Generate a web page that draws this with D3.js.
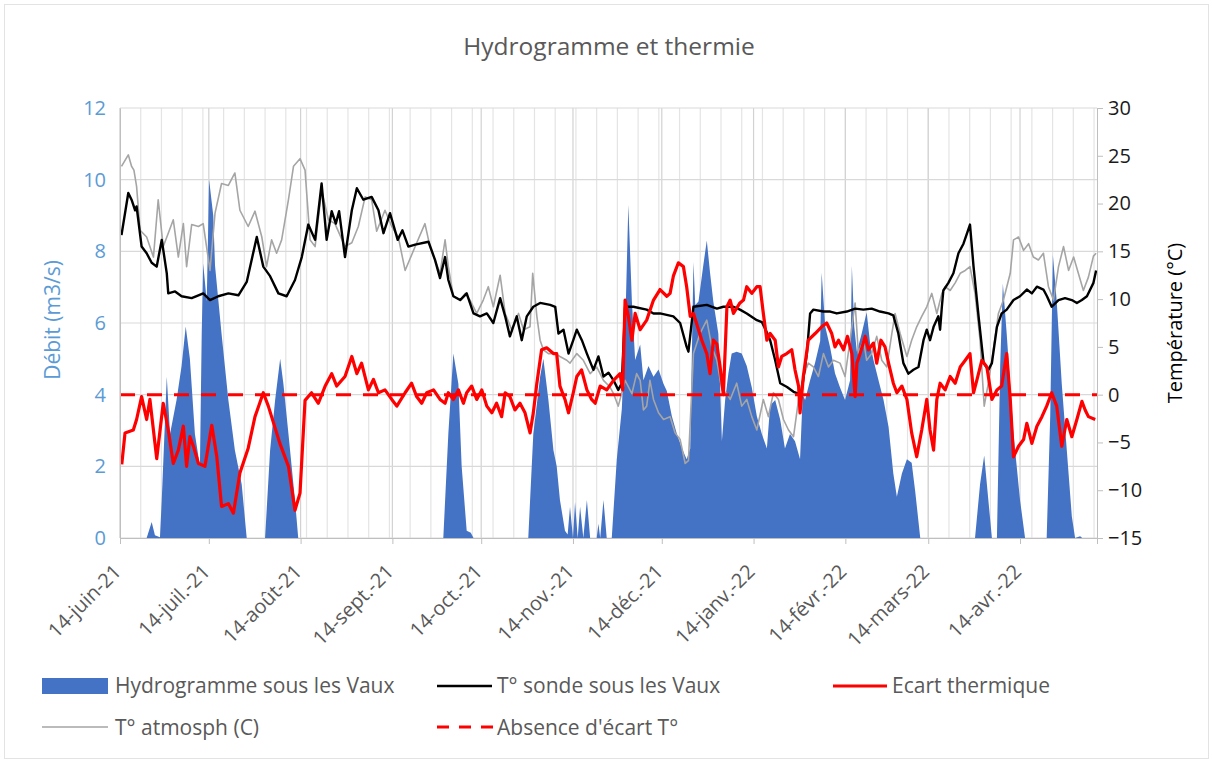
<!DOCTYPE html>
<html>
<head>
<meta charset="utf-8">
<script src="https://cdn.jsdelivr.net/npm/d3@7"></script>
<style>
body { margin: 0; background: #fff; }
text { font-family: "Open Sans", sans-serif; }
</style>
</head>
<body>
<script>
// jours depuis le 14 juin 2021
var startDate = new Date(2021, 5, 14)
var nbJours = 330

// Hydrogramme sous les Vaux (m3/s) : [jour, débit]
var hydrogramme = [[0,0],[9,0],[10.7,0.45],[11.8,0.08],[13.5,0.02],[14.1,1.06],[15.8,4.5],[16.9,2.9],[19.1,3.85],[20.8,4.8],[22.2,5.9],[23.6,5.0],[25.3,2.9],[27.0,2.0],[27.6,5.7],[28.1,7.66],[29.3,6.6],[30.1,10.0],[31.5,9.0],[32.1,7.6],[34.3,5.7],[36.6,3.85],[38.8,2.45],[41.1,1.5],[42.8,0],[49,0],[50.7,2.45],[52.4,3.85],[54.1,5.0],[55.2,4.3],[56.9,2.9],[59.1,1.06],[60.2,0],[109.2,0],[110.9,2.9],[112.6,5.15],[114.3,4.3],[115.4,2.0],[117.1,0.2],[118.5,0.15],[119.4,0],[137.9,0],[139.6,2.9],[141.9,4.5],[143,5.0],[144.7,3.85],[146.4,2.45],[147.5,2.0],[148.6,1.06],[150.3,0.2],[151.2,0.1],[152,0.87],[153,0],[153.7,1.0],[154.6,0],[155.4,0.87],[156.5,0],[157.7,1.06],[158.8,0],[161,0],[161.6,0.4],[162.2,0],[163.3,1.06],[164.4,0],[166.1,0],[167.8,2.2],[169.5,3.6],[170.6,5.7],[171.7,9.3],[172.9,6.6],[174,4.97],[175.7,5.4],[176.8,4.4],[178.5,4.8],[180.2,4.5],[181.9,4.7],[183.6,4.3],[184.7,4.1],[186.4,3.4],[188.1,2.9],[189.8,2.5],[191.4,2.2],[192.6,2.5],[193.7,7.7],[194.3,6.5],[195.4,6.6],[197,7.6],[198.2,8.3],[199.3,7.4],[200.4,6.6],[202.1,5.7],[203.3,2.7],[204.4,3.85],[205.5,4.6],[206.6,5.15],[208.3,5.2],[210,5.15],[211.7,4.8],[213.4,4.2],[215.1,3.4],[216.8,2.9],[218.5,2.5],[219.6,3.7],[221.3,3.85],[223,3.3],[224.6,2.5],[226.3,2.9],[228,2.7],[229.7,2.2],[230.6,4.0],[231.4,3.85],[233.1,4.4],[234.8,4.9],[236.5,5.5],[237,7.4],[238.2,5.9],[239.9,5.3],[241.5,4.6],[243.2,4.2],[244.9,3.85],[246.6,4.4],[247.2,7.6],[248,5.9],[248.9,5.2],[250.5,5.7],[252.2,6.3],[253.4,5.4],[254.5,4.97],[256.2,4.4],[257.9,3.85],[259.6,3.1],[261.2,1.8],[262.4,1.15],[264.1,1.8],[265.8,2.2],[267.4,2.1],[268.6,1.3],[270.3,0],[288.8,0],[290.5,1.5],[291.9,2.3],[293.3,1.06],[294.5,0],[296.2,0],[297.3,4.8],[298.2,7.1],[299.5,5.7],[301.8,2.9],[304,1.06],[305.7,0],[313,0],[314.2,3.4],[315.1,7.9],[316.4,6.6],[318.1,4.3],[319.8,2.45],[321.5,0.6],[322.6,0],[324.3,0.05],[325,0],[330,0]]

// T° sonde sous les Vaux (°C)
var tSonde = [[0.5,16.7],[2.8,21.1],[3.9,20.4],[5.1,19.3],[5.6,19.7],[7.3,15.5],[9,14.8],[10.7,13.8],[12.4,13.4],[14.1,16.2],[15.8,12.7],[16.3,10.6],[18.6,10.8],[20.8,10.3],[24.2,10.1],[26.5,10.4],[28.1,10.6],[30.4,9.9],[33.2,10.3],[36.6,10.6],[40,10.4],[42.8,11.8],[46.2,16.5],[48.4,13.4],[50.7,12.4],[53.5,10.6],[56.3,10.3],[59.1,12.0],[61.4,14.4],[63.6,17.8],[65.9,16.2],[68.1,22.1],[69.8,16.2],[71.5,19.2],[72.9,17.9],[74,19.2],[76,14.4],[78.3,19.3],[80,21.6],[82.2,20.4],[85,20.7],[87.3,19.3],[89,16.9],[91.2,19.0],[93.8,16.2],[95.4,17.2],[97.4,15.5],[99.7,15.7],[104.2,16.0],[106.4,14.1],[108.1,12.2],[109.8,14.4],[110.9,12.0],[112.6,10.3],[114.9,9.9],[117.1,10.6],[119.4,8.5],[121.6,8.2],[123.9,8.5],[126.1,7.5],[128.4,10.1],[130.1,8.2],[131.7,6.1],[134,8.2],[135.7,5.7],[137.4,8.2],[139.6,9.2],[141.9,9.6],[145.3,9.4],[147,9.2],[148.1,6.4],[149.8,6.8],[151.5,4.3],[153.1,5.7],[154.3,6.8],[156,5.7],[157.7,4.3],[159.9,2.6],[161.6,4.0],[163.3,1.9],[165,2.3],[166.7,1.5],[168.3,0.5],[169.5,1.2],[170.6,9.2],[173.4,9.2],[177.9,8.9],[180.2,8.5],[182.4,8.5],[186.9,8.2],[189.2,7.5],[191.4,5.0],[192,4.5],[193.7,9.2],[198.2,9.4],[201.6,9.0],[203.8,9.2],[207.2,9.2],[209.4,8.9],[211.7,8.5],[215.1,7.8],[216.8,7.6],[218.5,6.5],[219.6,5.7],[221.3,3.6],[223,1.2],[225.3,0.8],[227.5,0.3],[229.2,0.1],[230.3,0.5],[232,4.3],[233.1,8.5],[234.2,8.9],[237.6,8.7],[239.9,8.7],[242.1,8.5],[245.5,8.7],[248.3,9.0],[251.1,8.9],[253.9,9.0],[256.7,8.7],[259.6,8.5],[261.2,8.3],[262.9,6.4],[264.6,3.3],[266.3,2.2],[268,2.6],[269.7,2.9],[271.4,5.7],[272.5,6.8],[273.6,5.7],[274.8,7.1],[276.4,8.2],[277,6.8],[277.6,9.2],[278.1,10.9],[279.8,11.7],[281.5,12.7],[283.2,14.8],[284.9,15.8],[287.1,17.8],[288.3,13.4],[290,8.2],[291.7,3.3],[293.3,2.6],[294.5,3.3],[296.2,7.1],[297.8,8.5],[299.5,8.9],[301.8,9.9],[304,10.3],[306.3,11.0],[308,10.6],[309.7,11.3],[311.9,11.0],[313.1,10.3],[314.7,9.2],[317,9.9],[319.2,10.1],[321.5,9.9],[323.2,9.6],[324.9,9.9],[326.6,10.3],[328.8,11.7],[329.7,13.0]]

// T° atmosph (C)
var tAtmos = [[0.5,23.9],[2.8,25.1],[3.9,23.9],[4.7,23.5],[5.6,21.8],[6.8,17.2],[9,16.5],[11.3,14.4],[12.9,20.4],[14.6,15.5],[16.3,16.9],[18,18.3],[19.7,14.4],[21.4,17.9],[22.5,13.4],[24.2,17.8],[26.5,17.6],[28.1,17.9],[30.4,13.0],[32.1,19.0],[34.3,22.1],[36.6,21.9],[38.8,23.2],[40.5,19.3],[43.3,17.6],[45.6,19.2],[47.9,16.5],[49.5,13.4],[51.2,16.2],[52.9,14.8],[54.6,16.2],[56.9,20.4],[58.6,23.9],[60.8,24.7],[62.5,23.5],[64.2,16.2],[65.9,15.5],[68.1,21.4],[70.4,18.3],[72.6,17.9],[76,15.5],[78.3,15.9],[80.5,17.6],[82.8,20.7],[85,20.4],[86.7,17.1],[89.5,19.3],[91.8,17.6],[94,16.5],[96.3,13.0],[99.7,15.5],[103,17.9],[104.7,15.5],[106.4,14.1],[108.1,12.7],[109.8,16.2],[110.9,13.4],[112.6,10.3],[114.9,9.9],[116.6,10.6],[118.2,9.9],[120.5,8.5],[122.7,9.9],[124.4,11.3],[126.1,9.2],[128.4,12.5],[130.1,8.5],[132.3,6.8],[134.6,8.5],[136.3,6.8],[138.5,7.1],[139.4,12.7],[140.8,8.2],[141.9,5.7],[143,4.7],[144.7,4.3],[147,4.3],[148.6,4.0],[150.9,3.6],[152,3.3],[154.3,4.3],[156.5,3.6],[158.8,2.2],[161,2.9],[163.3,1.5],[165.5,0.8],[166.7,0.1],[168.3,-1.2],[170.6,1.5],[172.9,0.1],[174.5,2.2],[175.7,1.5],[176.8,-1.6],[177.9,-1.2],[179,1.5],[180.2,-0.5],[181.9,-1.9],[183.6,-2.6],[185.8,-2.3],[187.5,-4.0],[189.2,-4.7],[190.9,-7.2],[192,-6.9],[193.7,4.3],[195.9,6.4],[198.2,7.8],[199.9,5.0],[201.6,3.6],[203.3,0.5],[205,0.1],[206.1,-0.5],[208.3,1.2],[210,-1.2],[211.7,-0.5],[213.4,-2.3],[215.1,-3.7],[217.3,-0.5],[219,-2.3],[220.7,0.2],[222.4,-0.5],[224.1,-2.6],[225.8,-3.7],[227.5,-4.4],[229.2,-0.5],[230.8,1.9],[232.5,3.3],[234.2,2.9],[235.9,1.9],[237.6,4.3],[239.3,2.9],[241,3.6],[243.2,3.3],[244.9,1.9],[246.6,5.7],[248.3,9.6],[249.4,4.3],[251.1,5.7],[252.2,3.6],[253.9,4.3],[255.6,6.1],[257.3,3.6],[259,2.9],[260.7,6.4],[261.8,8.5],[263.5,6.4],[265.8,4.0],[267.4,5.7],[269.1,7.1],[270.8,8.2],[272.5,9.2],[274.2,10.6],[275.9,8.5],[277.6,10.6],[278.7,11.3],[280.4,10.9],[282.1,11.7],[283.8,12.7],[285.5,13.0],[287.1,13.4],[288.8,10.6],[290.5,5.7],[291.9,-1.2],[293.3,1.2],[295,4.7],[296.7,8.5],[298.4,9.9],[300.7,12.7],[301.8,16.2],[303.5,16.5],[305.2,15.1],[306.9,15.8],[308.5,14.4],[310.2,14.1],[311.9,14.8],[313.6,11.3],[315.3,9.9],[317,13.4],[318.7,15.5],[320.4,13.0],[322.1,14.4],[323.7,12.7],[325.4,10.9],[327.1,12.3],[328.8,14.5],[329.7,14.8]]

// Ecart thermique (°C)
var ecart = [[0.6,-7.3],[1.7,-4.0],[4.5,-3.7],[5.6,-2.6],[7.3,-0.2],[9,-2.6],[10.1,-0.5],[12.4,-6.7],[14.6,-0.9],[16.3,-3.7],[18,-7.2],[19.7,-5.8],[21.4,-3.3],[22.5,-7.5],[23.6,-4.4],[24.8,-5.4],[26.5,-7.2],[28.7,-7.5],[31,-3.2],[32.7,-6.5],[34.3,-11.7],[36.6,-11.4],[38.3,-12.4],[40.5,-8.2],[43.3,-5.6],[45.6,-2.3],[48.4,0.2],[50.1,-1.2],[52.4,-3.5],[54,-5.1],[56.9,-7.5],[59.1,-12.1],[60.8,-10.3],[62.5,-0.6],[64.7,0.2],[67,-0.9],[69.3,0.9],[71.5,2.2],[73.2,0.9],[76,1.9],[78.3,4.0],[80,2.2],[81.6,3.3],[83.9,0.5],[85.6,1.6],[87.3,0.2],[89.5,0.5],[91.8,-0.5],[93.5,-1.2],[96.3,0.2],[98.5,1.2],[100.2,-0.2],[101.9,-0.9],[103.6,0.2],[105.9,0.5],[108.1,-0.5],[109.8,-0.9],[110.9,0.2],[112.6,-0.5],[114.3,0.5],[116,-0.9],[117.1,0.2],[118.8,0.9],[120.5,-0.5],[122.2,0.5],[123.9,-1.2],[125.6,-1.9],[127.2,-0.9],[128.9,-2.3],[130.1,0.2],[131.7,-0.2],[133.4,-1.6],[135.1,-0.9],[136.8,-1.9],[138.5,-4.0],[139.6,-1.9],[140.8,1.2],[142.4,4.7],[144.1,4.9],[146.4,4.3],[147.5,4.3],[148.6,0.9],[150.3,-0.5],[151.5,-1.9],[153.1,0.2],[154.3,1.9],[155.9,2.6],[157.7,0.5],[159.3,-0.5],[160.5,-0.9],[162.2,0.9],[164.4,0.5],[166.7,1.5],[168.9,2.2],[169.8,0.5],[170.6,9.9],[171.7,8.2],[172.9,5.7],[174,8.5],[175.7,6.8],[177.9,7.8],[180.2,9.9],[182.4,11.0],[184.7,10.3],[185.8,10.6],[186.9,12.4],[188.6,13.8],[190.3,13.4],[191.4,11.3],[192.6,8.2],[193.7,8.5],[195.4,6.8],[196.5,5.7],[198.2,4.3],[199.3,2.2],[200.4,5.7],[201.6,5.3],[202.7,2.9],[203.8,0],[205,9.2],[206.1,9.9],[207.2,8.5],[209.4,9.6],[210.6,9.9],[211.7,11.3],[213.4,10.6],[215.1,11.3],[216.2,11.3],[217.3,8.5],[218.5,5.7],[219.6,6.4],[221.3,5.7],[222.4,2.9],[223.5,4.0],[225.2,4.3],[226.9,4.7],[228,2.6],[229.2,0.9],[229.7,-1.9],[230.8,1.9],[232.5,5.7],[234.8,6.4],[237,7.1],[238.7,7.5],[240.4,6.4],[241.5,5.0],[242.7,5.7],[244.4,4.7],[245.7,6.1],[247.2,4.3],[248.3,-0.2],[248.9,3.3],[250,4.3],[251.7,6.1],[252.8,4.7],[254.5,5.4],[255.6,3.3],[257,5.7],[258.4,5.0],[259.6,3.3],[261.2,1.2],[262.4,0.2],[264.1,0.9],[265.8,-0.5],[267.4,-4.0],[269.1,-6.5],[270.8,-3.7],[272.5,-0.5],[273.6,-3.7],[274.8,-5.8],[275.9,-0.5],[277,1.2],[278.7,0.5],[280.4,1.9],[282.1,1.2],[283.8,2.9],[285.5,3.6],[287.1,4.3],[288.3,0.2],[289.4,1.5],[291.1,3.6],[292.8,2.9],[294.5,-0.5],[296.2,0.5],[297.8,0.9],[299.5,4.3],[300.7,-0.5],[301.8,-6.5],[303.5,-5.4],[305.2,-4.7],[306.3,-3.0],[308,-5.1],[309.7,-3.3],[311.4,-2.3],[313,-1.2],[314.7,0.2],[316.4,-1.2],[318.1,-5.4],[319.8,-2.6],[321.5,-4.4],[323.2,-2.6],[324.9,-0.7],[326,-1.6],[327.1,-2.3],[329.4,-2.6]]

// Absence d'écart T°
var absenceEcart = [[0,0],[330,0]]

var debitTicks = [0,2,4,6,8,10,12]
var tempTicks = [-15,-10,-5,0,5,10,15,20,25,30]
var moisLabels = ["14-juin-21","14-juil.-21","14-août-21","14-sept.-21","14-oct.-21","14-nov.-21","14-déc.-21","14-janv.-22","14-févr.-22","14-mars-22","14-avr.-22"]

var W = 1213, H = 763
var plot = {left: 120, right: 1097, top: 108, bottom: 538}

function jour(d) { return new Date(startDate.getTime() + d*86400000) }

var svg = d3.select("body").append("svg")
.attr("width", W)
.attr("height", H)

svg.append("rect")
.attr("x", 4.5).attr("y", 4.5)
.attr("width", W-9).attr("height", H-9)
.attr("fill", "#fff")
.attr("stroke", "#e3e3e3")

var x = d3.scaleTime()
.domain([startDate, jour(nbJours)])
.range([plot.left, plot.right])
var yQ = d3.scaleLinear().domain([0, 12]).range([plot.bottom, plot.top])
var yT = d3.scaleLinear().domain([-15, 30]).range([plot.bottom, plot.top])

var moisDates = moisLabels.map(function(l, i) { return new Date(2021, 5+i, 14) })

// grille
var grid = svg.append("g")
d3.range(0, nbJours+1, 7).forEach(function(d) {
grid.append("line")
.attr("x1", x(jour(d))).attr("x2", x(jour(d)))
.attr("y1", plot.top).attr("y2", plot.bottom)
.attr("stroke", "#e4e4e4").attr("stroke-width", 1.2)
})
moisDates.forEach(function(d) {
grid.append("line")
.attr("x1", x(d)).attr("x2", x(d))
.attr("y1", plot.top).attr("y2", plot.bottom)
.attr("stroke", "#d2d2d2").attr("stroke-width", 1.2)
})
debitTicks.forEach(function(v) {
grid.append("line")
.attr("x1", plot.left).attr("x2", plot.right)
.attr("y1", yQ(v)).attr("y2", yQ(v))
.attr("stroke", "#d9d9d9").attr("stroke-width", 1.2)
})

// séries
var area = d3.area()
.x(function(d) { return x(jour(d[0])) })
.y0(yQ(0))
.y1(function(d) { return yQ(d[1]) })
svg.append("path")
.datum(hydrogramme)
.attr("d", area)
.attr("fill", "#4472c4")

var ligneT = d3.line()
.x(function(d) { return x(jour(d[0])) })
.y(function(d) { return yT(d[1]) })

svg.append("path").datum(tAtmos)
.attr("d", ligneT)
.attr("fill", "none").attr("stroke", "#a5a5a5").attr("stroke-width", 1.6)
.attr("stroke-linejoin", "round")
svg.append("path").datum(tSonde)
.attr("d", ligneT)
.attr("fill", "none").attr("stroke", "#000").attr("stroke-width", 2.4)
.attr("stroke-linejoin", "round")
svg.append("path").datum(ecart)
.attr("d", ligneT)
.attr("fill", "none").attr("stroke", "#ff0000").attr("stroke-width", 3.2)
.attr("stroke-linejoin", "round")
svg.append("path").datum(absenceEcart)
.attr("d", ligneT)
.attr("fill", "none").attr("stroke", "#ff0000").attr("stroke-width", 3)
.attr("stroke-dasharray", "15,12")

// axes
var axeG = d3.axisLeft(yQ).tickValues(debitTicks).tickSize(0).tickPadding(14)
var gG = svg.append("g").attr("transform", "translate(" + plot.left + ",0)").call(axeG)
gG.select(".domain").attr("stroke", "#bfbfbf")
gG.selectAll("text").attr("fill", "#5b9bd5").style("font-size", "20px")

var axeD = d3.axisRight(yT).tickValues(tempTicks).tickSize(6).tickPadding(5)
var gD = svg.append("g").attr("transform", "translate(" + plot.right + ",0)").call(axeD)
gD.select(".domain").attr("stroke", "#bfbfbf")
gD.selectAll("line").attr("stroke", "#bfbfbf")
gD.selectAll("text").attr("fill", "#1a1a1a").style("font-size", "20px")

var axeB = d3.axisBottom(x).tickValues(moisDates).tickSize(6).tickFormat(function(d, i) { return moisLabels[i] })
var gB = svg.append("g").attr("transform", "translate(0," + plot.bottom + ")").call(axeB)
gB.select(".domain").attr("stroke", "#bfbfbf")
gB.selectAll("line").attr("stroke", "#bfbfbf")
gB.selectAll("text")
.attr("fill", "#595959").style("font-size", "20px")
.attr("text-anchor", "end")
.attr("transform", "translate(-3,30) rotate(-45)")
.attr("x", 0).attr("y", 0).attr("dy", "0.35em")

// titres
svg.append("text")
.attr("x", 609).attr("y", 55)
.attr("text-anchor", "middle")
.attr("fill", "#595959")
.style("font-size", "24.5px")
.text("Hydrogramme et thermie")
svg.append("text")
.attr("transform", "translate(60,320) rotate(-90)")
.attr("text-anchor", "middle")
.attr("fill", "#5b9bd5")
.style("font-size", "21px")
.text("Débit (m3/s)")
svg.append("text")
.attr("transform", "translate(1182,323) rotate(-90)")
.attr("text-anchor", "middle")
.attr("fill", "#000")
.style("font-size", "20px")
.text("Température (°C)")

// légende
var leg = svg.append("g").style("font-size", "21px")
leg.append("rect").attr("x", 42).attr("y", 678).attr("width", 66).attr("height", 16).attr("fill", "#4472c4")
leg.append("text").attr("x", 115).attr("y", 693).attr("fill", "#595959").text("Hydrogramme sous les Vaux")
leg.append("line").attr("x1", 437).attr("x2", 492).attr("y1", 686).attr("y2", 686).attr("stroke", "#000").attr("stroke-width", 2.4)
leg.append("text").attr("x", 497).attr("y", 693).attr("fill", "#595959").text("T° sonde sous les Vaux")
leg.append("line").attr("x1", 833).attr("x2", 887).attr("y1", 686).attr("y2", 686).attr("stroke", "#ff0000").attr("stroke-width", 3.2)
leg.append("text").attr("x", 892).attr("y", 693).attr("fill", "#595959").text("Ecart thermique")
leg.append("line").attr("x1", 42).attr("x2", 108).attr("y1", 727).attr("y2", 727).attr("stroke", "#a5a5a5").attr("stroke-width", 1.6)
leg.append("text").attr("x", 115).attr("y", 735).attr("fill", "#595959").text("T° atmosph (C)")
leg.append("line").attr("x1", 437).attr("x2", 493).attr("y1", 727).attr("y2", 727).attr("stroke", "#ff0000").attr("stroke-width", 3).attr("stroke-dasharray", "12,10")
leg.append("text").attr("x", 497).attr("y", 735).attr("fill", "#595959").text("Absence d'écart T°")
</script>
</body>
</html>
